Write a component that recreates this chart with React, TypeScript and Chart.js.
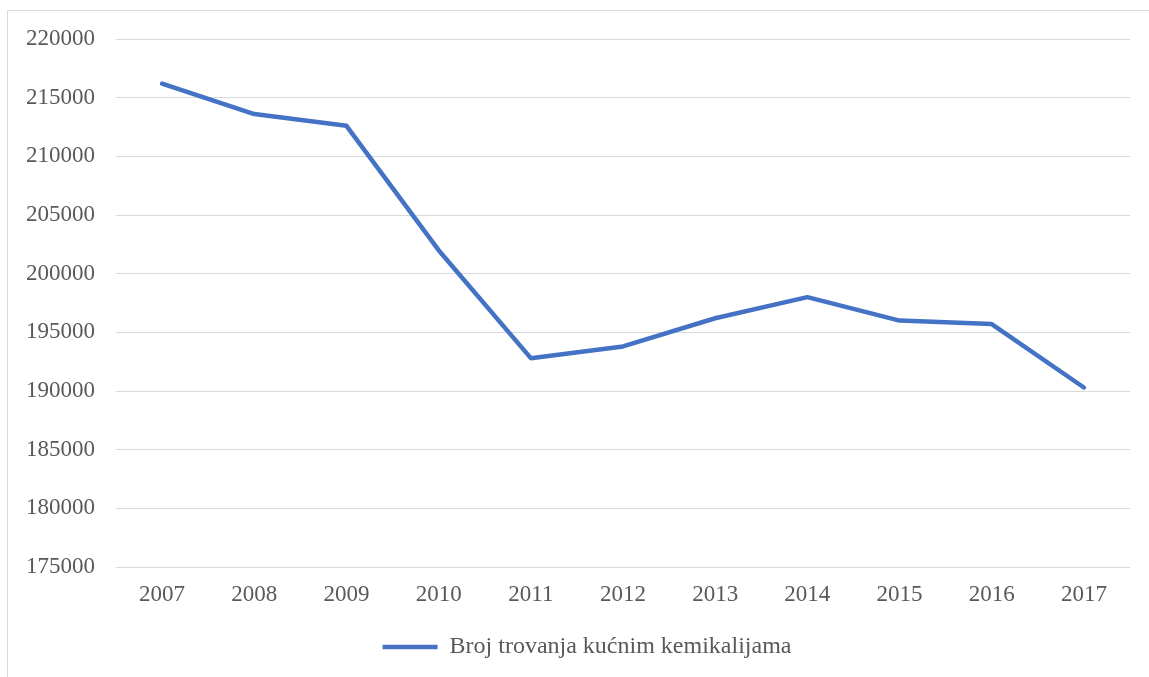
import React, { useEffect, useRef } from "react";
import { Chart, registerables } from "chart.js";

Chart.register(...registerables);

const years = ["2007", "2008", "2009", "2010", "2011", "2012", "2013", "2014", "2015", "2016", "2017"];
const poisonings = [216200, 213600, 212600, 202000, 192800, 193800, 196200, 198000, 196000, 195700, 190300];
const seriesLabel = "Broj trovanja kućnim kemikalijama";
const yMin = 175000;
const yMax = 220000;
const yStep = 5000;

const legendShift = {
  id: "legendShift",
  afterLayout(chart: any) {
    if (chart.legend) {
      chart.legend.left += 44;
      chart.legend.right += 0;
    }
  },
};

export default function App() {
  const ref = useRef<HTMLCanvasElement | null>(null);

  useEffect(() => {
    if (!ref.current) return;
    const family = "'Liberation Serif', 'Times New Roman', serif";
    const font = { family, size: 23 };
    const chart = new Chart(ref.current, {
      type: "line",
      data: {
        labels: years,
        datasets: [
          {
            label: seriesLabel,
            data: poisonings,
            borderColor: "#4472C4",
            backgroundColor: "#4472C4",
            borderWidth: 4.5,
            pointRadius: 0,
            tension: 0,
            borderCapStyle: "round",
            borderJoinStyle: "round",
          },
        ],
      },
      options: {
        responsive: false,
        animation: false,
        layout: { padding: { top: 39, right: 19, left: 0, bottom: 8 } },
        scales: {
          x: {
            offset: true,
            grid: { display: false },
            border: { display: false },
            ticks: { color: "#595959", font, padding: 6, maxRotation: 0 },
            afterFit: (s: any) => {
              s.height = 58;
            },
          },
          y: {
            min: yMin,
            max: yMax,
            grid: { color: "#d9d9d9", lineWidth: 1, drawTicks: false },
            border: { display: false },
            ticks: {
              stepSize: yStep,
              color: "#595959",
              font,
              padding: 21,
              callback: (v: any) => String(v),
            },
            afterFit: (s: any) => {
              s.width = 116;
            },
          },
        },
        plugins: {
          legend: {
            position: "bottom",
            labels: {
              color: "#595959",
              font: { family, size: 24 },
              usePointStyle: true,
              pointStyle: "line",
              pointStyleWidth: 55,
              padding: 10,
            },
          },
          tooltip: { enabled: false },
        },
      },
      plugins: [legendShift],
    });
    return () => chart.destroy();
  }, []);

  return (
    <div style={{ position: "absolute", left: 0, top: 0, width: 1149, height: 677, overflow: "hidden", background: "#fff" }}>
      <div
        style={{
          position: "absolute",
          left: 7,
          top: 10,
          width: 1300,
          height: 800,
          border: "1px solid #d9d9d9",
          boxSizing: "border-box",
        }}
      />
      <canvas ref={ref} width={1149} height={677} style={{ position: "absolute", left: 0, top: 0, display: "block" }} />
    </div>
  );
}
